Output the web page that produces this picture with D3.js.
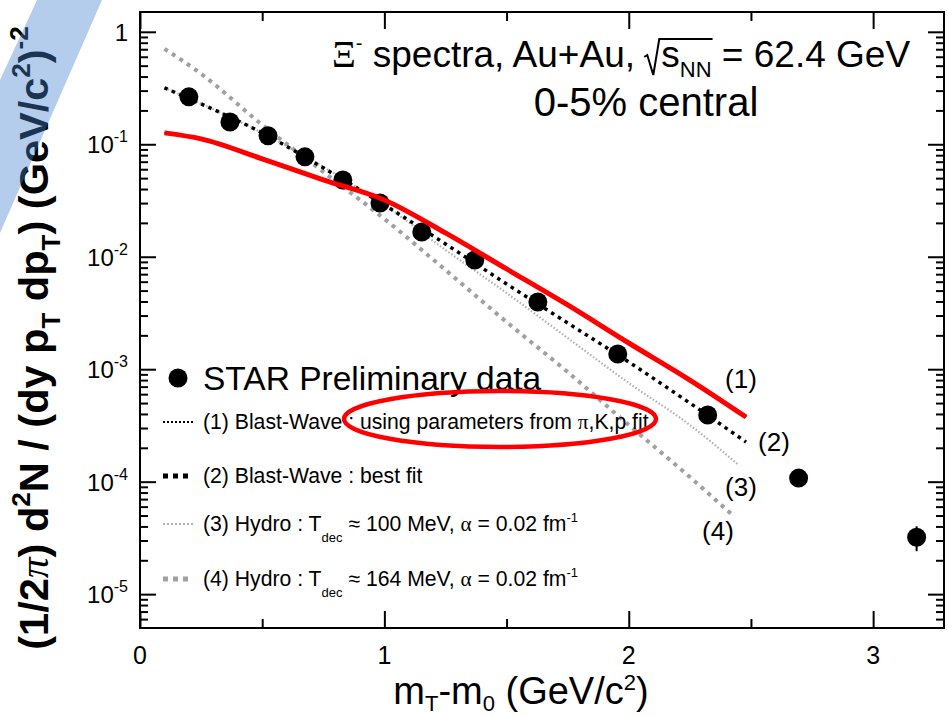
<!DOCTYPE html>
<html>
<head>
<meta charset="utf-8">
<script src="https://cdn.jsdelivr.net/npm/d3@7"></script>
<style>
  body { margin: 0; background: #fff; }
  svg { display: block; }
  text { font-family: "Liberation Sans", Arial, Helvetica, sans-serif; fill: #000; }
</style>
</head>
<body>
<svg id="chart" width="948" height="717"></svg>
<script>
// STAR preliminary Xi- spectrum, Au+Au 62.4 GeV, 0-5% central
const dataMt    = [0.200, 0.368, 0.524, 0.675, 0.830, 0.982, 1.153, 1.370, 1.628, 1.955, 2.323, 2.695, 3.178];
const dataYield = [0.264, 0.158, 0.119, 0.0773, 0.0482, 0.0301, 0.0166, 0.00937, 0.00396, 0.001365, 0.000391, 0.0001076, 3.21e-5];
const dataErr   = [0, 0, 0, 0, 0, 0, 0, 0, 0, 0, 0, 0, 0.8e-5];

// (1) Blast-Wave with pi,K,p parameters
const bw1Mt    = [0.1, 0.25, 0.5, 0.75, 1.0, 1.25, 1.5, 1.75, 2.0, 2.25, 2.48];
const bw1Yield = [0.1263, 0.1117, 0.0742, 0.0482, 0.0320, 0.01628, 0.00779, 0.003725, 0.001710, 0.000801, 0.0003756];
// (2) Blast-Wave best fit
const bw2Mt    = [0.1, 0.25, 0.5, 0.75, 1.0, 1.25, 1.5, 1.75, 2.0, 2.25, 2.48];
const bw2Yield = [0.3175, 0.2288, 0.1263, 0.0617, 0.0289, 0.0130, 0.00573, 0.002576, 0.001159, 0.000500, 0.000225];
// (3) Hydro, Tdec = 100 MeV
const hy3Mt    = [0.1, 0.25, 0.5, 0.75, 1.0, 1.25, 1.5, 1.75, 2.0, 2.25, 2.45];
const hy3Yield = [0.3175, 0.2288, 0.1263, 0.0629, 0.0289, 0.01149, 0.004763, 0.001895, 0.000754, 0.000319, 0.0001405];
// (4) Hydro, Tdec = 164 MeV
const hy4Mt    = [0.1, 0.25, 0.5, 0.75, 1.0, 1.25, 1.5, 1.75, 2.0, 2.25, 2.42];
const hy4Yield = [0.706, 0.4230, 0.1488, 0.0568, 0.02170, 0.00763, 0.002630, 0.000944, 0.000319, 0.0001099, 5.15e-5];

const xMajor = [0, 1, 2, 3];
const xMinor = [0.5, 1.5, 2.5];
const yMajorExp = [0, -1, -2, -3, -4, -5];

const svg = d3.select("#chart");
const L = 140, R = 944, T = 12, B = 628;
const x = d3.scaleLinear().domain([0, 3.29]).range([L, R]);
const y = d3.scaleLog().domain([5e-6, 1.5]).range([B, T]);

// ---- axes ----
const yMajor = yMajorExp.map(e => Math.pow(10, e));
const yMinor = [];
for (let e = -6; e <= 0; e++) for (let m = 2; m <= 9; m++) {
  const v = m * Math.pow(10, e);
  if (v > 5e-6 && v < 1.5) yMinor.push(v);
}
function styleAxis(g) {
  g.select(".domain").remove();
  g.selectAll(".tick line").attr("stroke", "#000").attr("stroke-width", 2);
}
svg.append("g").attr("transform", `translate(0,${B})`)
  .call(d3.axisBottom(x).tickValues(xMajor).tickSize(-17).tickFormat("")).call(styleAxis);
svg.append("g").attr("transform", `translate(0,${B})`)
  .call(d3.axisBottom(x).tickValues(xMinor).tickSize(-9).tickFormat("")).call(styleAxis);
svg.append("g").attr("transform", `translate(0,${T})`)
  .call(d3.axisTop(x).tickValues(xMajor).tickSize(-17).tickFormat("")).call(styleAxis);
svg.append("g").attr("transform", `translate(0,${T})`)
  .call(d3.axisTop(x).tickValues(xMinor).tickSize(-9).tickFormat("")).call(styleAxis);
svg.append("g").attr("transform", `translate(${L},0)`)
  .call(d3.axisLeft(y).tickValues(yMajor).tickSize(-16).tickFormat("")).call(styleAxis);
svg.append("g").attr("transform", `translate(${L},0)`)
  .call(d3.axisLeft(y).tickValues(yMinor).tickSize(-8).tickFormat("")).call(styleAxis);
svg.append("g").attr("transform", `translate(${R},0)`)
  .call(d3.axisRight(y).tickValues(yMajor).tickSize(-16).tickFormat("")).call(styleAxis);
svg.append("g").attr("transform", `translate(${R},0)`)
  .call(d3.axisRight(y).tickValues(yMinor).tickSize(-8).tickFormat("")).call(styleAxis);

svg.append("rect").attr("x", L).attr("y", T).attr("width", R - L).attr("height", B - T)
  .attr("fill", "none").attr("stroke", "#000").attr("stroke-width", 2);

// x tick labels
svg.append("g").selectAll("text").data(xMajor).join("text")
  .attr("x", d => x(d)).attr("y", B + 36).attr("text-anchor", "middle")
  .attr("font-size", 25).text(d => d);

// y tick labels: 1 and 10^n
const yl = svg.append("g");
yMajorExp.forEach(e => {
  const t = yl.append("text").attr("x", 128).attr("y", y(Math.pow(10, e)) + 9)
    .attr("text-anchor", "end").attr("font-size", 24);
  if (e === 0) { t.text("1"); return; }
  t.append("tspan").text("10");
  t.append("tspan").attr("font-size", 16).attr("dy", -11).text("-" + (-e));
});

// axis titles
const xt = svg.append("text").attr("x", 521).attr("y", 704).attr("text-anchor", "middle").attr("font-size", 38);
xt.append("tspan").text("m");
xt.append("tspan").attr("font-size", 22).attr("dy", 7).text("T");
xt.append("tspan").attr("dy", -7).text("-m");
xt.append("tspan").attr("font-size", 22).attr("dy", 7).text("0");
xt.append("tspan").attr("dy", -7).text(" (GeV/c");
xt.append("tspan").attr("font-size", 22).attr("dy", -14).text("2");
xt.append("tspan").attr("dy", 14).text(")");

const yt = svg.append("text").attr("transform", "translate(48,338) rotate(-90)")
  .attr("text-anchor", "middle").attr("font-size", 41.5).attr("font-weight", "bold");
yt.append("tspan").text("(1/2");
yt.append("tspan").attr("font-family", "Liberation Serif, serif").attr("font-weight", "normal").attr("font-style", "italic").text("π");
yt.append("tspan").text(") d");
yt.append("tspan").attr("font-size", 26).attr("dy", -18).text("2");
yt.append("tspan").attr("dy", 18).text("N / (dy p");
yt.append("tspan").attr("font-size", 26).attr("dy", 12).text("T");
yt.append("tspan").attr("dy", -12).text(" dp");
yt.append("tspan").attr("font-size", 26).attr("dy", 12).text("T");
yt.append("tspan").attr("dy", -12).text(") (GeV/c");
yt.append("tspan").attr("font-size", 26).attr("dy", -18).text("2");
yt.append("tspan").attr("dy", 18).text(")");
yt.append("tspan").attr("font-size", 26).attr("dy", -20).text("-2");

// ---- model curves ----
const line = d3.line().x(d => x(d[0])).y(d => y(d[1])).curve(d3.curveMonotoneX);
const zip = (a, b) => a.map((v, i) => [v, b[i]]);
const plot = svg.append("g");
plot.append("path").attr("d", line(zip(hy4Mt, hy4Yield))).attr("fill", "none")
  .attr("stroke", "#a0a0a0").attr("stroke-width", 4).attr("stroke-dasharray", "4,5");
plot.append("path").attr("d", line(zip(hy3Mt, hy3Yield))).attr("fill", "none")
  .attr("stroke", "#b0b0b0").attr("stroke-width", 2.2).attr("stroke-dasharray", "1.5,2");
plot.append("path").attr("d", line(zip(bw2Mt, bw2Yield))).attr("fill", "none")
  .attr("stroke", "#000").attr("stroke-width", 3.5).attr("stroke-dasharray", "3.5,4.5");
plot.append("path").attr("d", line(zip(bw1Mt, bw1Yield))).attr("fill", "none")
  .attr("stroke", "#000").attr("stroke-width", 2).attr("stroke-dasharray", "1.5,2");

// data points
const pts = zip(dataMt, dataYield).map((d, i) => ({ x: d[0], y: d[1], e: dataErr[i] }));
plot.selectAll("line.err").data(pts.filter(d => d.e > 0)).join("line")
  .attr("x1", d => x(d.x)).attr("x2", d => x(d.x))
  .attr("y1", d => y(d.y - d.e)).attr("y2", d => y(d.y + d.e))
  .attr("stroke", "#000").attr("stroke-width", 2);
plot.selectAll("circle").data(pts).join("circle")
  .attr("cx", d => x(d.x)).attr("cy", d => y(d.y)).attr("r", 9.5).attr("fill", "#000");

// red highlight over curve (1)
plot.append("path").attr("d", line(zip(bw1Mt, bw1Yield))).attr("fill", "none")
  .attr("stroke", "#ff0000").attr("stroke-width", 5).attr("stroke-linecap", "butt");

// curve labels
const curveLabels = [["(1)", 741, 388], ["(2)", 774, 451], ["(3)", 741, 496], ["(4)", 718, 540]];
svg.append("g").selectAll("text").data(curveLabels).join("text")
  .attr("x", d => d[1]).attr("y", d => d[2]).attr("text-anchor", "middle")
  .attr("font-size", 26).text(d => d[0]);

// ---- title ----
const tt = svg.append("text").attr("x", 332).attr("y", 67).attr("font-size", 37);
tt.append("tspan").attr("font-family", "Liberation Serif, serif").text("Ξ");
tt.append("tspan").attr("font-size", 20).attr("dy", -17).text("-");
tt.append("tspan").attr("dy", 17).text(" spectra, Au+Au, ");
tt.append("tspan").attr("dx", 16).text("s");
tt.append("tspan").attr("font-size", 22).attr("dy", 10).text("NN");
tt.append("tspan").attr("dy", -10).text(" = 62.4 GeV");
{
  const node = tt.node();
  const full = node.textContent;
  const iS = full.indexOf("sNN");
  const sx = node.getStartPositionOfChar(iS).x;
  const ex = node.getEndPositionOfChar(iS + 2).x;
  svg.append("path")
    .attr("d", `M${sx - 17},57 L${sx - 14},55 L${sx - 8},75 L${sx - 2},39 L${ex + 1},39`)
    .attr("fill", "none").attr("stroke", "#000").attr("stroke-width", 2);
}
svg.append("text").attr("x", 646).attr("y", 116).attr("text-anchor", "middle")
  .attr("font-size", 40).text("0-5% central");

// ---- legend ----
const lg = svg.append("g");
lg.append("circle").attr("cx", 178).attr("cy", 378).attr("r", 9.5).attr("fill", "#000");
lg.append("text").attr("x", 203).attr("y", 390).attr("font-size", 33.5).text("STAR Preliminary data");

const legendRows = [
  { y: 422, stroke: "#000", w: 2, dash: "2,2" },
  { y: 476, stroke: "#000", w: 5, dash: "5,5" },
  { y: 524, stroke: "#b4b4b4", w: 2, dash: "2,2" },
  { y: 579, stroke: "#a0a0a0", w: 5, dash: "5,5" }
];
legendRows.forEach(r => {
  lg.append("line").attr("x1", 163).attr("x2", 193).attr("y1", r.y).attr("y2", r.y)
    .attr("stroke", r.stroke).attr("stroke-width", r.w).attr("stroke-dasharray", r.dash);
});
const fs = 21.2;
lg.append("text").attr("x", 203).attr("y", 429).attr("font-size", fs)
  .call(t => {
    t.append("tspan").text("(1) Blast-Wave : using parameters from ");
    t.append("tspan").attr("font-family", "Liberation Serif, serif").text("π");
    t.append("tspan").text(",K,p fit");
  });
lg.append("text").attr("x", 203).attr("y", 483).attr("font-size", fs).text("(2) Blast-Wave : best fit");
function hydroRow(t, temp, yy) {
  const tx = lg.append("text").attr("x", 203).attr("y", yy).attr("font-size", fs);
  tx.append("tspan").text("(" + t + ") Hydro : T");
  tx.append("tspan").attr("font-size", 13).attr("dy", 11).text("dec");
  tx.append("tspan").attr("dy", -11).text(" ≈ " + temp + " MeV, ");
  tx.append("tspan").attr("font-family", "Liberation Serif, serif").text("α");
  tx.append("tspan").text(" = 0.02 fm");
  tx.append("tspan").attr("font-size", 13).attr("dy", -9).text("-1");
}
hydroRow(3, 100, 531);
hydroRow(4, 164, 586);

// red ellipse annotation
svg.append("ellipse").attr("cx", 500).attr("cy", 419).attr("rx", 156).attr("ry", 28)
  .attr("fill", "none").attr("stroke", "#ff0000").attr("stroke-width", 4.5);

// translucent blue band across the upper-left corner
svg.append("polygon").attr("points", "37,0 102,0 0,233 0,80")
  .attr("fill", "rgb(67,130,207)").attr("fill-opacity", 0.4);
</script>
</body>
</html>
